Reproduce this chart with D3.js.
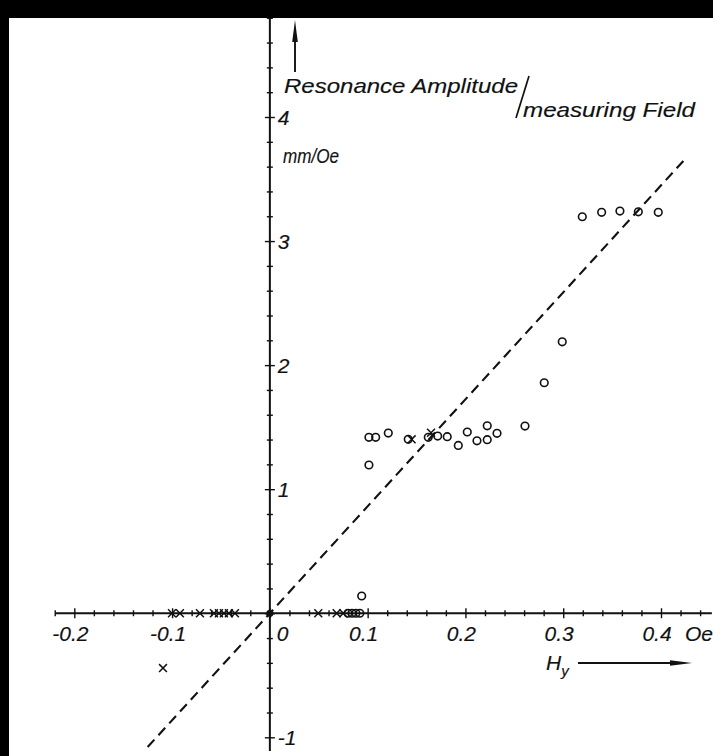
<!DOCTYPE html>
<html>
<head>
<meta charset="utf-8">
<script src="https://cdn.jsdelivr.net/npm/d3@7"></script>
<style>
  html, body { margin: 0; padding: 0; background: #fff; }
  svg { display: block; }
  text { font-family: "Liberation Sans", Arial, sans-serif; font-style: italic; fill: #111; stroke: #111; stroke-width: 0.15; }
</style>
</head>
<body>
<svg id="chart" width="713" height="756"></svg>
<script>
// Measured points: field H_y (Oe) against resonance amplitude per measuring field (mm/Oe)
const circleH = [0.1013, 0.1082, 0.1211, 0.1415, 0.1620, 0.1716, 0.1814, 0.1927, 0.2019, 0.2118,
                 0.2223, 0.2223, 0.2323, 0.2609, 0.2806, 0.2990, 0.1013,
                 0.3195, 0.3393, 0.3580, 0.3768, 0.3972,
                 0.0939, 0.0799, 0.0840, 0.0880, 0.0920];
const circleA = [1.418, 1.418, 1.452, 1.402, 1.418, 1.428, 1.423, 1.353, 1.461, 1.390,
                 1.511, 1.399, 1.450, 1.509, 1.858, 2.188, 1.195,
                 3.196, 3.232, 3.242, 3.236, 3.232,
                 0.139, 0, 0, 0, 0];
const crossH = [0.1450, 0.1648, -0.1093,
                -0.1001, -0.0920, -0.0715, -0.0572, -0.0521, -0.0470, -0.0419, -0.0357,
                0.0495, 0.0683, 0.0751];
const crossA = [1.402, 1.455, -0.442,
                0, 0, 0, 0, 0, 0, 0, 0,
                0, 0, 0];
const solidH = [0];
const solidA = [0];

// Straight line through the origin (dashed)
const fitH = [-0.125, 0.425];
const fitA = [-1.078, 3.664];

// Axis ticks and labels
const xMinorTicks = d3.range(-11, 23).map(i => +(i * 0.02).toFixed(2));
const xMajorTicks = [-0.2, -0.1, 0, 0.1, 0.2, 0.3, 0.4];
const xTickLabels = ["-0.2", "-0.1", "0.1", "0.2", "0.3", "0.4"];
const xLabelValues = [-0.2, -0.1, 0.1, 0.2, 0.3, 0.4];
const yMinorTicks = d3.range(-5, 25).map(i => +(i * 0.2).toFixed(1));
const yMajorTicks = [-1, 0, 1, 2, 3, 4];
const yTickLabels = ["-1", "1", "2", "3", "4"];
const yLabelValues = [-1, 1, 2, 3, 4];

const svg = d3.select("#chart");
const W = 713, H = 756;

svg.append("rect").attr("width", W).attr("height", H).attr("fill", "#fff");

const x = d3.scaleLinear().domain([-0.2, 0.4]).range([74.3, 661]);
const y = d3.scaleLinear().domain([-1, 4]).range([737.3, 117]);
const x0 = x(0), y0 = y(0);

const ink = "#111";
const isMajor = (list, d) => list.some(v => Math.abs(v - d) < 1e-6);

// x axis built from d3.axisBottom, ticks crossing the line
const gx = svg.append("g").attr("transform", `translate(0,${y0})`);
gx.call(d3.axisBottom(x).tickValues(xMinorTicks).tickSize(0).tickFormat(""));
gx.select(".domain").remove();
gx.selectAll(".tick line")
  .attr("stroke", ink)
  .attr("stroke-width", 1.4)
  .attr("y1", d => isMajor(xMajorTicks, d) ? -5 : -3)
  .attr("y2", d => isMajor(xMajorTicks, d) ? 5 : 3);
svg.append("line")
  .attr("x1", x(-0.2195)).attr("x2", x(0.452))
  .attr("y1", y0).attr("y2", y0)
  .attr("stroke", ink).attr("stroke-width", 2);

// y axis built from d3.axisLeft
const gy = svg.append("g").attr("transform", `translate(${x0},0)`);
gy.call(d3.axisLeft(y).tickValues(yMinorTicks).tickSize(0).tickFormat(""));
gy.select(".domain").remove();
gy.selectAll(".tick line")
  .attr("stroke", ink)
  .attr("stroke-width", 1.4)
  .attr("x1", d => isMajor(yMajorTicks, d) ? -5 : -3)
  .attr("x2", d => isMajor(yMajorTicks, d) ? 5 : 3);
svg.append("line")
  .attr("x1", x0).attr("x2", x0)
  .attr("y1", y(-1.11)).attr("y2", y(4.9))
  .attr("stroke", ink).attr("stroke-width", 2);

// tick labels
svg.append("g").selectAll("text")
  .data(xLabelValues)
  .join("text")
  .attr("x", d => x(d) - 4)
  .attr("y", y0 + 28)
  .attr("text-anchor", "middle")
  .attr("font-size", 21)
  .text((d, i) => xTickLabels[i]);
svg.append("text")
  .attr("x", x0 + 7).attr("y", y0 + 28)
  .attr("font-size", 21).text("0");
svg.append("text")
  .attr("x", x(0.4) + 24).attr("y", y0 + 28)
  .attr("font-size", 21).text("Oe");

svg.append("g").selectAll("text")
  .data(yLabelValues)
  .join("text")
  .attr("x", x0 + 8)
  .attr("y", d => y(d) + 8)
  .attr("font-size", 21)
  .text((d, i) => yTickLabels[i]);

// axis titles
svg.append("text")
  .attr("x", 284).attr("y", 93)
  .attr("font-size", 21)
  .attr("textLength", 234).attr("lengthAdjust", "spacingAndGlyphs")
  .text("Resonance Amplitude");
svg.append("line")
  .attr("x1", 529).attr("y1", 76).attr("x2", 516).attr("y2", 118)
  .attr("stroke", ink).attr("stroke-width", 1.7);
svg.append("text")
  .attr("x", 523).attr("y", 117)
  .attr("font-size", 21)
  .attr("textLength", 172).attr("lengthAdjust", "spacingAndGlyphs")
  .text("measuring Field");
svg.append("text")
  .attr("x", 283).attr("y", 163)
  .attr("font-size", 21)
  .attr("textLength", 56).attr("lengthAdjust", "spacingAndGlyphs")
  .text("mm/Oe");

const hy = svg.append("text").attr("x", 546).attr("y", 670).attr("font-size", 21);
hy.append("tspan").text("H");
hy.append("tspan").attr("font-size", 15).attr("dy", 6).text("y");

// axis arrows
svg.append("line")
  .attr("x1", 578).attr("x2", 676).attr("y1", 663).attr("y2", 663)
  .attr("stroke", ink).attr("stroke-width", 1.8);
svg.append("path")
  .attr("d", "M670,660.3 L692,663 L670,665.7 Z")
  .attr("fill", ink);
svg.append("line")
  .attr("x1", 295).attr("x2", 295).attr("y1", 36).attr("y2", 72)
  .attr("stroke", ink).attr("stroke-width", 1.9);
svg.append("path")
  .attr("d", "M292.2,42 L295,20 L297.8,42 Z")
  .attr("fill", ink);

// dashed line through origin
svg.append("path")
  .datum(fitH.map((h, i) => [h, fitA[i]]))
  .attr("d", d3.line().x(d => x(d[0])).y(d => y(d[1])))
  .attr("fill", "none")
  .attr("stroke", ink)
  .attr("stroke-width", 2.1)
  .attr("stroke-dasharray", "10,6");

// measured points
svg.append("g").selectAll("circle")
  .data(circleH.map((h, i) => [h, circleA[i]]))
  .join("circle")
  .attr("cx", d => x(d[0])).attr("cy", d => y(d[1]))
  .attr("r", 3.8)
  .attr("fill", "none")
  .attr("stroke", ink)
  .attr("stroke-width", 1.6);

const crossSym = d3.symbol().type(d3.symbolX).size(42);
svg.append("g").selectAll("path")
  .data(crossH.map((h, i) => [h, crossA[i]]))
  .join("path")
  .attr("transform", d => `translate(${x(d[0])},${y(d[1])})`)
  .attr("d", crossSym)
  .attr("fill", "none")
  .attr("stroke", ink)
  .attr("stroke-width", 1.5);

svg.append("g").selectAll("circle")
  .data(solidH.map((h, i) => [h, solidA[i]]))
  .join("circle")
  .attr("cx", d => x(d[0])).attr("cy", d => y(d[1]))
  .attr("r", 3.6)
  .attr("fill", ink);

// scan border
svg.append("rect").attr("x", 0).attr("y", 0).attr("width", W).attr("height", 18).attr("fill", "#000");
svg.append("rect").attr("x", 0).attr("y", 0).attr("width", 9).attr("height", H).attr("fill", "#000");
</script>
</body>
</html>
